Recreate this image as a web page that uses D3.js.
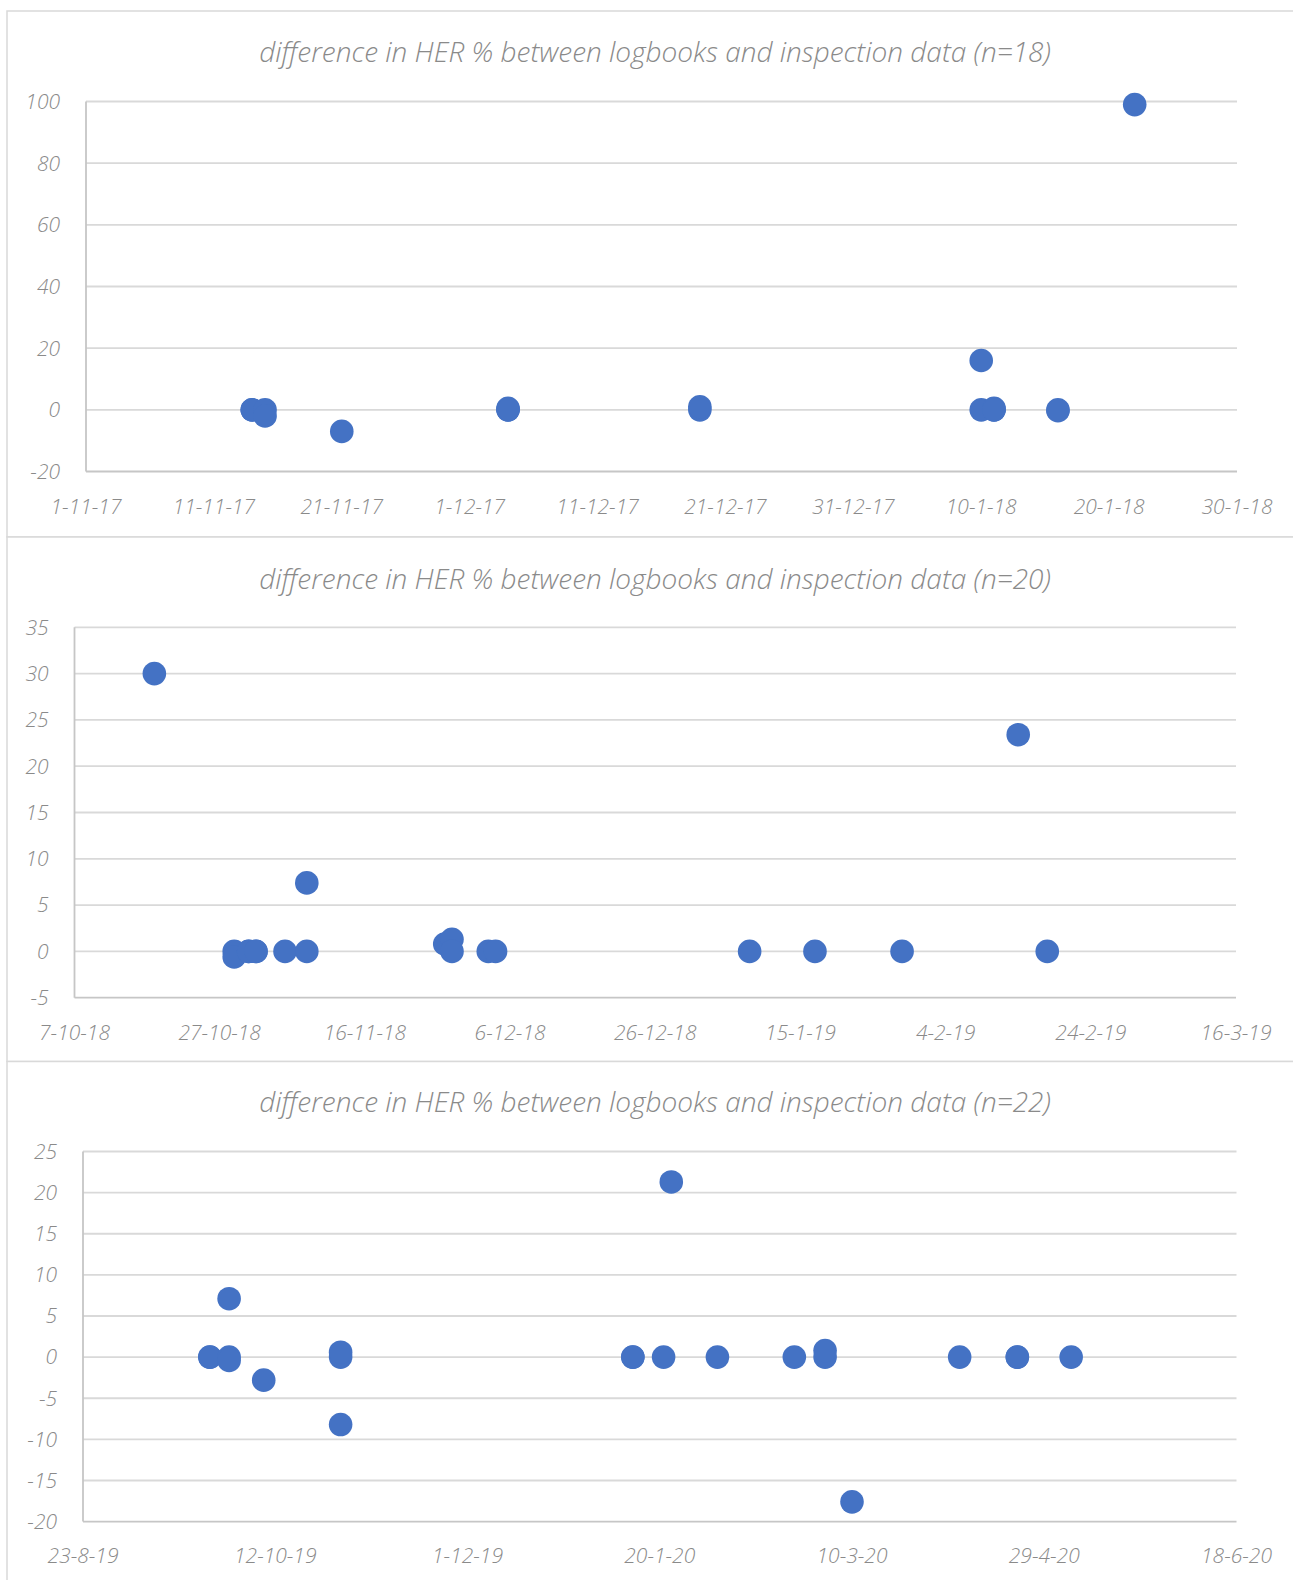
<!DOCTYPE html>
<html>
<head>
<meta charset="utf-8">
<script src="https://cdn.jsdelivr.net/npm/d3@7"></script>
<style>
  html, body { margin: 0; padding: 0; background: #fff; }
  svg { display: block; }
  text { font-family: "Open Sans", "Noto Sans", sans-serif; font-style: italic; font-weight: 300; fill: #8a8a8a; }
</style>
</head>
<body>
<svg id="chart" width="1293" height="1580"></svg>
<script>
// ---- Data: difference in HER % between logbooks and inspection data ----
const dates1 = ["14-11-17","14-11-17","15-11-17","15-11-17","21-11-17","4-12-17","4-12-17","4-12-17",
  "19-12-17","19-12-17","10-1-18","10-1-18","11-1-18","11-1-18","11-1-18","16-1-18","16-1-18","22-1-18"];
const values1 = [0, 0, 0, -2, -7, 0, 0.5, 0,
  0, 1, 16, 0, 0, 0.5, 0, 0, -0.3, 99];

const dates2 = ["18-10-18","29-10-18","29-10-18","31-10-18","31-10-18","1-11-18","1-11-18","5-11-18",
  "8-11-18","8-11-18","27-11-18","28-11-18","28-11-18","3-12-18","4-12-18","8-1-19","17-1-19","29-1-19",
  "14-2-19","18-2-19"];
const values2 = [30, 0, -0.6, 0, 0, 0, 0, 0,
  7.4, 0, 0.8, 1.3, 0, 0, 0, 0, 0, 0,
  23.4, 0];

const dates3 = ["25-9-19","25-9-19","30-9-19","30-9-19","30-9-19","9-10-19","29-10-19","29-10-19","29-10-19",
  "13-1-20","13-1-20","21-1-20","23-1-20","4-2-20","24-2-20","3-3-20","3-3-20","10-3-20",
  "7-4-20","22-4-20","22-4-20","6-5-20"];
const values3 = [0, 0, 7.1, 0, -0.4, -2.8, 0, 0.6, -8.2,
  0, 0, 0, 21.3, 0, 0, 0, 0.8, -17.6,
  0, 0, 0, 0];

// Axis settings per panel
const titles = [
  "difference in HER % between logbooks and inspection data (n=18)",
  "difference in HER % between logbooks and inspection data (n=20)",
  "difference in HER % between logbooks and inspection data (n=22)"
];
const xStart = ["1-11-17", "7-10-18", "23-8-19"];
const xEnd = ["30-1-18", "16-3-19", "18-6-20"];
const xStepDays = [10, 20, 50];
const yTicks1 = [-20, 0, 20, 40, 60, 80, 100];
const yTicks2 = [-5, 0, 5, 10, 15, 20, 25, 30, 35];
const yTicks3 = [-20, -15, -10, -5, 0, 5, 10, 15, 20, 25];

const parse = s => {
  const [d, m, y] = s.split("-").map(Number);
  return new Date(Date.UTC(2000 + y, m - 1, d));
};
const fmt = d3.utcFormat("%-d-%-m-%y");

const svg = d3.select("#chart");

// Panel layout
const panels = [
  { top: 11,   bottom: 537,  titleY: 62,   plot: { left: 86,   right: 1237, top: 101.5, bottom: 471.5 }, xLabelY: 514,
    dates: dates1, values: values1, yTicks: yTicks1 },
  { top: 537,  bottom: 1061.5, titleY: 589, plot: { left: 74.5, right: 1236, top: 627.3, bottom: 997.7 }, xLabelY: 1040,
    dates: dates2, values: values2, yTicks: yTicks2 },
  { top: 1061.5, bottom: 1600, titleY: 1112, plot: { left: 83, right: 1236.5, top: 1151.5, bottom: 1521.6 }, xLabelY: 1563,
    dates: dates3, values: values3, yTicks: yTicks3 }
];

panels.forEach((p, i) => {
  const g = svg.append("g");

  // chart frame
  g.append("rect")
    .attr("x", 7).attr("y", p.top)
    .attr("width", 1300).attr("height", p.bottom - p.top)
    .attr("fill", "#fff").attr("stroke", "#d9d9d9").attr("stroke-width", 1.5);

  // title
  g.append("text")
    .attr("x", 655).attr("y", p.titleY)
    .attr("text-anchor", "middle")
    .style("font-size", "28px")
    .text(titles[i]);

  const x0 = parse(xStart[i]), x1 = parse(xEnd[i]);
  const x = d3.scaleUtc().domain([x0, x1]).range([p.plot.left, p.plot.right]);
  const yExt = d3.extent(p.yTicks);
  const y = d3.scaleLinear().domain(yExt).range([p.plot.bottom, p.plot.top]);

  const xTicks = d3.utcDay.every(1).range(x0, d3.utcDay.offset(x1, 1))
    .filter((d, k) => k % xStepDays[i] === 0);

  // horizontal gridlines
  g.append("g")
    .selectAll("line")
    .data(p.yTicks.filter(v => v !== yExt[0]))
    .join("line")
    .attr("x1", p.plot.left).attr("x2", p.plot.right)
    .attr("y1", d => y(d)).attr("y2", d => y(d))
    .attr("stroke", "#d9d9d9").attr("stroke-width", 1.8);

  // axes lines (left and bottom)
  g.append("line")
    .attr("x1", p.plot.left).attr("x2", p.plot.right)
    .attr("y1", y(yExt[0])).attr("y2", y(yExt[0]))
    .attr("stroke", "#c6c6c6").attr("stroke-width", 1.8);
  g.append("line")
    .attr("x1", p.plot.left).attr("x2", p.plot.left)
    .attr("y1", y(yExt[0])).attr("y2", y(yExt[1]))
    .attr("stroke", "#c6c6c6").attr("stroke-width", 1.8);

  // y tick labels
  g.append("g")
    .selectAll("text")
    .data(p.yTicks)
    .join("text")
    .attr("x", p.plot.left - 26)
    .attr("y", d => y(d))
    .attr("dy", "0.35em")
    .attr("text-anchor", "end")
    .style("font-size", "21px")
    .text(d => d);

  // x tick labels
  g.append("g")
    .selectAll("text")
    .data(xTicks)
    .join("text")
    .attr("x", d => x(d))
    .attr("y", p.xLabelY)
    .attr("text-anchor", "middle")
    .style("font-size", "21px")
    .text(d => fmt(d));

  // points
  g.append("g")
    .selectAll("circle")
    .data(p.dates.map((d, k) => ({ date: parse(d), value: p.values[k] })))
    .join("circle")
    .attr("cx", d => x(d.date))
    .attr("cy", d => y(d.value))
    .attr("r", 11.8)
    .attr("fill", "#4472c4");
});
</script>
</body>
</html>
